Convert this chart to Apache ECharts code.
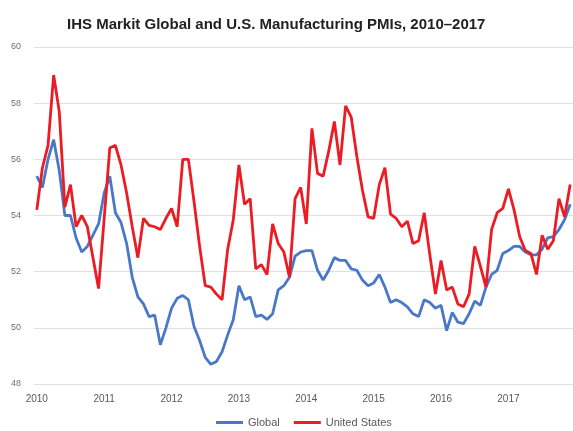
<!DOCTYPE html>
<html>
<head>
<meta charset="utf-8">
<script src="https://cdn.jsdelivr.net/npm/echarts@6/dist/echarts.min.js"></script>
<style>
  html, body { margin: 0; padding: 0; background: #fff; }
  #chart-container { width: 573px; height: 431px; }
</style>
</head>
<body>
<div id="chart-container"></div>
<script>
// tick labels (one per January)
var yearLabels = ['2010', '2011', '2012', '2013', '2014', '2015', '2016', '2017'];

// one category per month, Jan 2010 - Dec 2017
var categories = [];
yearLabels.forEach(function (y) {
	for (var m = 1; m <= 12; m++) {
		categories.push(y + '-' + (m < 10 ? '0' + m : m));
	}
});

// IHS Markit Global Manufacturing PMI
var globalPmi = [
	55.4, 55.0, 56.0, 56.7, 55.6, 54.0, 54.0, 53.2, 52.7, 52.9, 53.3, 53.7,
	54.8, 55.4, 54.1, 53.75, 53.0, 51.8, 51.1, 50.85, 50.4, 50.45, 49.4, 50.0,
	50.7, 51.05, 51.15, 51.0, 50.05, 49.55, 48.95, 48.7, 48.8, 49.15, 49.75, 50.3,
	51.5, 51.0, 51.1, 50.4, 50.45, 50.3, 50.5, 51.35, 51.5, 51.8, 52.55, 52.7,
	52.75, 52.75, 52.05, 51.7, 52.05, 52.5, 52.4, 52.4, 52.1, 52.05, 51.7, 51.5,
	51.6, 51.9, 51.45, 50.9, 51.0, 50.9, 50.75, 50.5, 50.4, 51.0, 50.9, 50.7,
	50.8, 49.9, 50.55, 50.2, 50.15, 50.5, 50.95, 50.8, 51.45, 51.9, 52.05, 52.65,
	52.75, 52.9, 52.9, 52.7, 52.6, 52.6, 52.8, 53.2, 53.25, 53.5, 53.85, 54.4
];

// IHS Markit U.S. Manufacturing PMI
var usPmi = [
	54.2, 55.7, 56.5, 59.0, 57.7, 54.3, 55.1, 53.6, 54.0, 53.6, 52.5, 51.4,
	53.9, 56.4, 56.5, 55.8, 54.8, 53.6, 52.5, 53.9, 53.65, 53.6, 53.5, 53.9,
	54.25, 53.6, 56.0, 56.0, 54.5, 52.9, 51.5, 51.45, 51.2, 51.0, 52.8, 53.85,
	55.8, 54.4, 54.6, 52.1, 52.25, 51.9, 53.7, 53.0, 52.7, 51.8, 54.6, 55.0,
	53.7, 57.1, 55.5, 55.4, 56.3, 57.35, 55.8, 57.9, 57.5, 56.1, 54.9, 53.95,
	53.9, 55.1, 55.7, 54.05, 53.9, 53.6, 53.8, 53.0, 53.1, 54.1, 52.6, 51.2,
	52.4, 51.35, 51.45, 50.85, 50.75, 51.2, 52.9, 52.2, 51.45, 53.5, 54.1, 54.25,
	54.95, 54.2, 53.25, 52.75, 52.65, 51.9, 53.3, 52.8, 53.1, 54.6, 53.95, 55.1
];

var chartDom = document.getElementById('chart-container');
var myChart = echarts.init(chartDom);
var option;

option = {
	animation: false,
	backgroundColor: '#ffffff',
	title: {
		text: 'IHS Markit Global and U.S. Manufacturing PMIs, 2010–2017',
		left: 62,
		top: 12,
		textStyle: {
			color: '#222222',
			fontFamily: 'Liberation Sans',
			fontWeight: 'bold',
			fontSize: 15
		}
	},
	legend: {
		top: 417,
		left: 216,
		padding: 0,
		itemWidth: 27,
		itemHeight: 3,
		itemGap: 14,
		icon: 'rect',
		textStyle: {
			color: '#595959',
			fontFamily: 'Liberation Sans',
			fontSize: 11
		},
		data: ['Global', 'United States']
	},
	grid: {
		left: 34,
		top: 47,
		width: 541,
		height: 337
	},
	xAxis: {
		type: 'category',
		data: categories,
		boundaryGap: true,
		axisLine: { show: false },
		axisTick: { show: false },
		axisLabel: {
			interval: function (idx) { return idx % 12 === 0; },
			formatter: function (val) { return val.slice(0, 4); },
			color: '#595959',
			fontFamily: 'Liberation Sans',
			fontSize: 10,
			margin: 10
		},
		splitLine: { show: false }
	},
	yAxis: {
		type: 'value',
		min: 48,
		max: 60,
		interval: 2,
		axisLine: { show: false },
		axisTick: { show: false },
		axisLabel: {
			color: '#6f6f6f',
			fontFamily: 'Liberation Sans',
			fontSize: 9,
			margin: 13
		},
		splitLine: {
			lineStyle: { color: '#e0e0e0', width: 1 }
		}
	},
	series: [
		{
			name: 'Global',
			type: 'line',
			data: globalPmi,
			symbol: 'none',
			lineStyle: { color: '#4a78c8', width: 2.8 },
			itemStyle: { color: '#4a78c8' }
		},
		{
			name: 'United States',
			type: 'line',
			data: usPmi,
			symbol: 'none',
			lineStyle: { color: '#ec1c24', width: 2.8 },
			itemStyle: { color: '#ec1c24' }
		}
	]
};

myChart.setOption(option);

window.addEventListener('resize', function() {
	myChart.resize();
});
</script>
</body>
</html>
